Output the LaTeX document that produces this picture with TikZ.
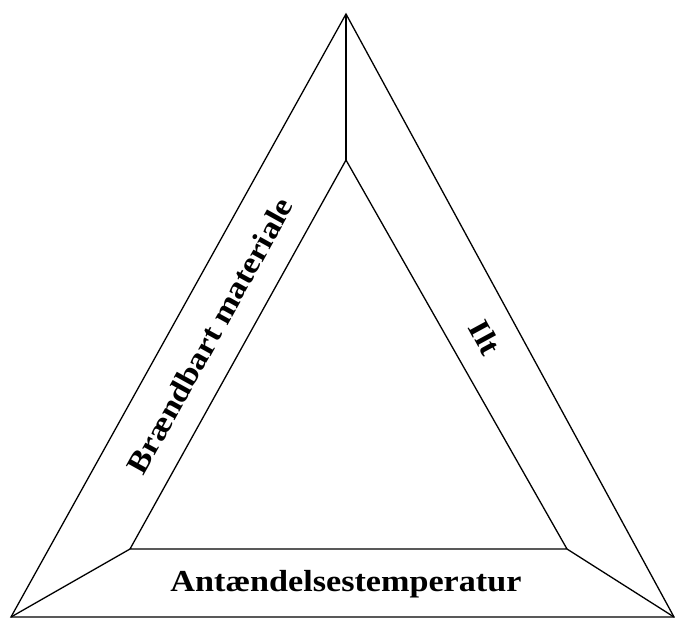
\documentclass[tikz,border=0pt]{standalone}
\usepackage{fontspec}
\setmainfont{Liberation Serif}
\newfontfamily\lblfont[FakeStretch=1.12]{Liberation Serif}
\begin{document}
\begin{tikzpicture}[x=1pt,y=-1pt,
  edge/.style={line width=1.3pt,line join=miter},
  lbl/.style={font=\lblfont\fontsize{30.5}{32}\selectfont\bfseries,inner sep=0pt}]
\useasboundingbox (0,0) rectangle (675,619);
\coordinate (OT) at (346,14);
\coordinate (OL) at (11,617);
\coordinate (OR) at (674,617);
\coordinate (IT) at (346,160);
\coordinate (IL) at (130,549);
\coordinate (IR) at (567,549);
\draw[edge] (OT) -- (OL) -- (OR) -- cycle;
\draw[edge] (IT) -- (IL) -- (IR) -- cycle;
\draw[edge] (OT) -- (IT);
\draw[edge] (OL) -- (IL);
\draw[edge] (OR) -- (IR);
\node[lbl,anchor=base] (bottom) at (346,591) {Antændelsestemperatur};
\node[lbl,rotate=61] (left) at (210,336) {Brændbart materiale};
\node[lbl,rotate=-61.5] (right) at (485,338) {Ilt};
\end{tikzpicture}
\end{document}
